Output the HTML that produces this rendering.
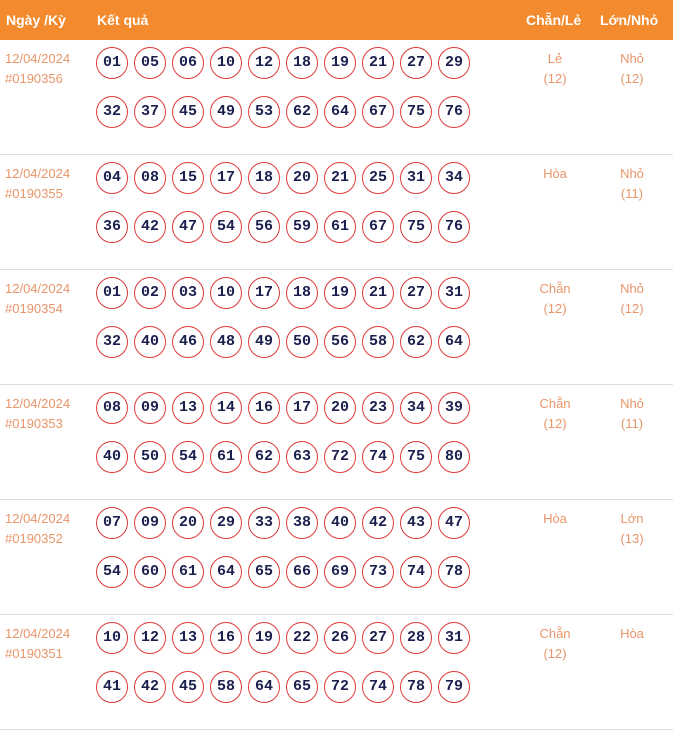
<!DOCTYPE html><html><head><meta charset="utf-8"><style>
body{margin:0;width:673px;height:717px;background:#fff;font-family:"Liberation Sans",sans-serif;overflow:hidden;position:relative}
.hd{position:absolute;left:0;top:0;width:673px;height:40px;background:#f38a2e;color:#fff;font-weight:bold;font-size:14px}
.hd span{position:absolute;top:12px}
.row{position:absolute;left:0;width:673px;height:114px;border-bottom:1px solid #ddd}
.d{position:absolute;left:5px;top:9px;color:#e8956a;font-size:13px;line-height:20px}
.b{position:absolute;width:30px;height:30px;border:1px solid #e0393a;border-radius:50%;text-align:center;line-height:30px;font-family:"Liberation Mono",monospace;font-weight:bold;font-size:15px;color:#1a1f4e}
.c{position:absolute;top:9px;width:70px;text-align:center;color:#e8956a;font-size:13px;line-height:20px}
</style></head><body>
<div class="hd"><span style="left:6px">Ngày /Kỳ</span><span style="left:97px">Kết quả</span><span style="left:526px">Chẵn/Lẻ</span><span style="left:600px">Lớn/Nhỏ</span></div>
<div id="r"></div>
<script>
const data=[
["#0190356","01 05 06 10 12 18 19 21 27 29 32 37 45 49 53 62 64 67 75 76","Lẻ<br>(12)","Nhỏ<br>(12)"],
["#0190355","04 08 15 17 18 20 21 25 31 34 36 42 47 54 56 59 61 67 75 76","Hòa","Nhỏ<br>(11)"],
["#0190354","01 02 03 10 17 18 19 21 27 31 32 40 46 48 49 50 56 58 62 64","Chẵn<br>(12)","Nhỏ<br>(12)"],
["#0190353","08 09 13 14 16 17 20 23 34 39 40 50 54 61 62 63 72 74 75 80","Chẵn<br>(12)","Nhỏ<br>(11)"],
["#0190352","07 09 20 29 33 38 40 42 43 47 54 60 61 64 65 66 69 73 74 78","Hòa","Lớn<br>(13)"],
["#0190351","10 12 13 16 19 22 26 27 28 31 41 42 45 58 64 65 72 74 78 79","Chẵn<br>(12)","Hòa"]];
let h="";
data.forEach((r,i)=>{
h+=`<div class="row" style="top:${40+i*115}px"><div class="d">12/04/2024<br>${r[0]}</div>`;
r[1].split(" ").forEach((n,j)=>{h+=`<div class="b" style="left:${96+(j%10)*38}px;top:${j<10?7:56}px">${n}</div>`});
h+=`<div class="c" style="left:520px">${r[2]}</div><div class="c" style="left:597px">${r[3]}</div></div>`;
});
document.getElementById("r").innerHTML=h;
</script></body></html>
